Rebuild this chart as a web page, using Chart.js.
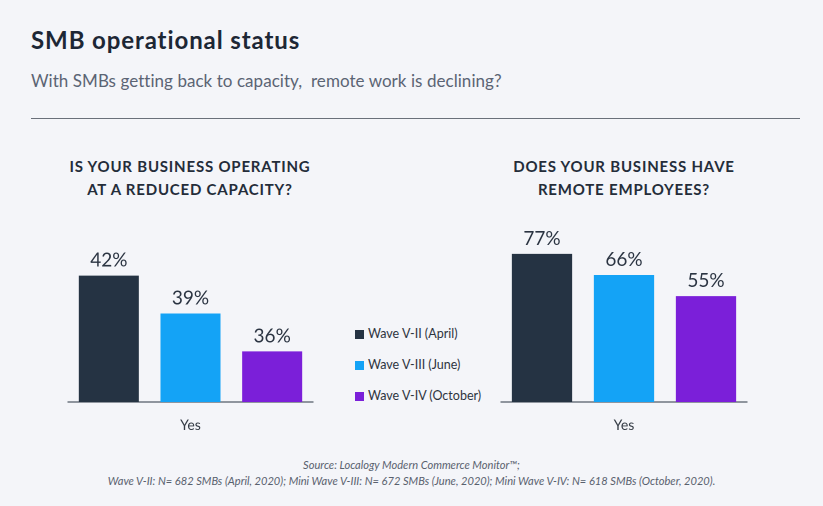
<!DOCTYPE html>
<html>
<head>
<meta charset="utf-8">
<script src="https://cdn.jsdelivr.net/npm/chart.js@4.4.1/dist/chart.umd.min.js"></script>
<style>
  html, body { margin: 0; padding: 0; }
  body { width: 823px; height: 506px; background: #f4f5f9; position: relative; overflow: hidden; font-family: Lato, "Open Sans", sans-serif; }
  .abs { position: absolute; }
  #title { left: 31px; top: 23px; font-size: 24px; font-weight: 700; color: #1d2735; white-space: nowrap; line-height: 34px; letter-spacing: 0.9px; }
  #subtitle { left: 31px; top: 68px; font-size: 17px; color: #5b6474; white-space: pre; line-height: 26px; letter-spacing: 0.05px; }
  #rule { left: 31px; top: 118px; width: 769px; height: 1px; background: #6a707a; }
  .heading { width: 300px; text-align: center; font-size: 15px; font-weight: 700; color: #242d3a; line-height: 23px; top: 155px; letter-spacing: 0.8px; }
  #legend { left: 355px; top: 326px; }
  .lg-row { position: absolute; left: 0; white-space: nowrap; font-size: 12.5px; color: #2e3440; height: 16px; line-height: 16px; }
  .lg-box { position: absolute; left: 0; top: 3.5px; width: 9px; height: 9px; }
  .lg-text { position: absolute; left: 13px; top: 0; }
  #footer { left: 0; width: 823px; top: 457px; text-align: center; font-size: 11.1px; font-style: italic; color: #59616e; line-height: 16px; }
  .chartbox { position: absolute; top: 185px; height: 270px; }
</style>
</head>
<body>
<div id="title" class="abs">SMB operational status</div>
<div id="subtitle" class="abs">With SMBs getting back to capacity,  remote work is declining?</div>
<div id="rule" class="abs"></div>

<div id="h1" class="abs heading" style="left:40px;">IS YOUR BUSINESS OPERATING<br>AT A REDUCED CAPACITY?</div>
<div id="h2" class="abs heading" style="left:474px;">DOES YOUR BUSINESS HAVE<br>REMOTE EMPLOYEES?</div>

<div class="chartbox" style="left:58px; width:265px;"><canvas id="c1"></canvas></div>
<div class="chartbox" style="left:491px; width:266px;"><canvas id="c2"></canvas></div>

<div id="legend" class="abs"></div>

<div id="footer" class="abs">Source: Localogy Modern Commerce Monitor™;<br>Wave V-II: N= 682 SMBs (April, 2020); Mini Wave V-III: N= 672 SMBs (June, 2020); Mini Wave V-IV: N= 618 SMBs (October, 2020).</div>

<script>
// ---- data ----
const categories = ['Yes'];
const seriesLabels = ['Wave V-II (April)', 'Wave V-III (June)', 'Wave V-IV (October)'];
const reducedCapacity = [42, 39, 36];
const remoteEmployees = [77, 66, 55];

// ---- styles ----
const seriesColors = ['#253343', '#14a3f6', '#7b1fd9'];

const valueLabelPlugin = {
  id: 'valueLabels',
  afterDatasetsDraw(chart) {
    const ctx = chart.ctx;
    ctx.save();
    ctx.font = '19px Lato, "Open Sans", sans-serif';
    ctx.fillStyle = '#2b3442';
    ctx.textAlign = 'center';
    ctx.textBaseline = 'alphabetic';
    chart.data.datasets.forEach((ds, i) => {
      const meta = chart.getDatasetMeta(i);
      meta.data.forEach((bar, j) => {
        ctx.fillText(ds.data[j] + '%', bar.x, bar.y - 9);
      });
    });
    ctx.restore();
  }
};

function makeChart(id, values, yMin, yMax) {
  return new Chart(document.getElementById(id), {
    type: 'bar',
    data: {
      labels: categories,
      datasets: seriesLabels.map((lab, i) => ({
        label: lab,
        data: [values[i]],
        backgroundColor: seriesColors[i],
        borderWidth: 0
      }))
    },
    options: {
      responsive: true,
      maintainAspectRatio: false,
      animation: false,
      devicePixelRatio: 2,
      layout: { padding: { top: 40, left: 10, right: 10, bottom: 6.2 } },
      datasets: { bar: { categoryPercentage: 1.0, barPercentage: 0.735 } },
      plugins: { legend: { display: false }, tooltip: { enabled: false }, title: { display: false } },
      scales: {
        x: {
          grid: { display: false, drawTicks: false },
          border: { display: true, color: '#2b3442', width: 1 },
          ticks: { color: '#333a44', padding: 15, font: { family: 'Lato, "Open Sans", sans-serif', size: 14 } }
        },
        y: { display: false, min: yMin, max: yMax }
      }
    },
    plugins: [valueLabelPlugin]
  });
}

makeChart('c1', reducedCapacity, 32, 46);
makeChart('c2', remoteEmployees, 0, 92);

// legend
const legend = document.getElementById('legend');
const rowTops = [0, 31, 62];
seriesLabels.forEach((lab, i) => {
  const row = document.createElement('div');
  row.className = 'lg-row';
  row.style.top = rowTops[i] + 'px';
  row.innerHTML = '<span class="lg-box" style="background:' + seriesColors[i] + '"></span><span class="lg-text"></span>';
  row.querySelector('.lg-text').textContent = lab;
  legend.appendChild(row);
});
</script>
</body>
</html>
